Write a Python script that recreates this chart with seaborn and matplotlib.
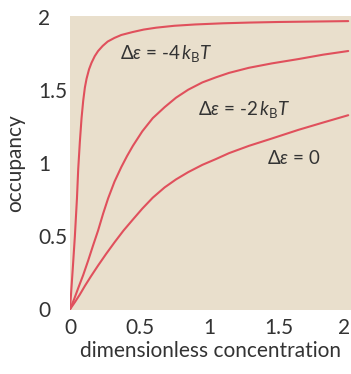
import numpy as np
import pandas as pd
import seaborn as sns
import matplotlib.pyplot as plt
from matplotlib.transforms import ScaledTranslation

# values
x_m4 = [0.0, 0.01, 0.02, 0.035, 0.05, 0.059, 0.071, 0.083, 0.095, 0.107, 0.119, 0.137, 0.155,
        0.178, 0.202, 0.235, 0.271, 0.32, 0.369, 0.45, 0.53, 0.62, 0.75, 0.9, 1.1, 1.29, 1.5, 1.75, 2.0]
y_m4 = [0.0, 0.14, 0.28, 0.5, 0.76, 0.96, 1.15, 1.31, 1.43, 1.52, 1.58, 1.645, 1.69,
        1.735, 1.77, 1.805, 1.835, 1.86, 1.88, 1.90, 1.917, 1.93, 1.943, 1.952, 1.96, 1.965, 1.969, 1.972, 1.975]

x_m2 = [0.0, 0.03, 0.059, 0.095, 0.131, 0.165, 0.202, 0.238, 0.274, 0.32, 0.369, 0.41, 0.452,
        0.52, 0.595, 0.68, 0.762, 0.85, 0.952, 1.05, 1.143, 1.286, 1.45, 1.643, 1.82, 2.0]
y_m2 = [0.0, 0.07, 0.145, 0.235, 0.335, 0.435, 0.54, 0.655, 0.76, 0.875, 0.975, 1.05, 1.12,
        1.22, 1.31, 1.385, 1.45, 1.505, 1.555, 1.59, 1.62, 1.655, 1.685, 1.715, 1.745, 1.77]

x_0 = [0.0, 0.036, 0.07, 0.107, 0.15, 0.202, 0.26, 0.321, 0.385, 0.452, 0.52, 0.595, 0.68,
       0.762, 0.85, 0.952, 1.05, 1.143, 1.286, 1.45, 1.643, 1.82, 2.0]
y_0 = [0.0, 0.05, 0.10, 0.16, 0.225, 0.30, 0.38, 0.46, 0.54, 0.615, 0.69, 0.765, 0.835,
       0.89, 0.94, 0.99, 1.03, 1.07, 1.12, 1.17, 1.23, 1.28, 1.33]

curves = {"-4": (x_m4, y_m4), "-2": (x_m2, y_m2), "0": (x_0, y_0)}

labels = [r"$\Delta\varepsilon$ = -4$\,k_{\mathrm{B}}T$",
          r"$\Delta\varepsilon$ = -2$\,k_{\mathrm{B}}T$",
          r"$\Delta\varepsilon$ = 0"]
label_pos = [(0.69, 1.75), (1.25, 1.37), (1.61, 1.04)]

ticks = [0, 0.5, 1, 1.5, 2]
tick_labels = ["0", "0.5", "1", "1.5", "2"]

sns.set_style("white")
plt.rcParams['font.family'] = ['Lato', 'DejaVu Sans']
plt.rcParams['mathtext.fontset'] = 'custom'
plt.rcParams['mathtext.rm'] = 'Lato'
plt.rcParams['mathtext.it'] = 'Lato:italic'
plt.rcParams['mathtext.fallback'] = 'stix'

fig = plt.figure(figsize=(3.51, 3.74), dpi=100)
ax = fig.add_axes([70 / 351, 1 - 310 / 374, 1 - 70 / 351, (310 - 16) / 374])
ax.set_facecolor("#e9dfcc")

red = "#e0505c"
for name, (xs, ys) in curves.items():
    df = pd.DataFrame({"x": xs, "y": ys})
    sns.lineplot(data=df, x="x", y="y", ax=ax, color=red, lw=1.5, sort=False)

for txt, (tx, ty) in zip(labels, label_pos):
    ax.text(tx, ty, txt, ha="center", va="center", fontsize=13.5, color="#333333")

ax.set_xlim(0, 2.02)
ax.set_ylim(-0.005, 2.01)
ax.set_xticks(ticks)
ax.set_xticklabels(tick_labels)
ax.set_yticks(ticks)
ax.set_yticklabels(tick_labels)
ax.tick_params(axis="both", length=0, labelsize=15, colors="#333333")
ax.tick_params(axis="x", pad=6)
ax.tick_params(axis="y", pad=23)
for lab in ax.get_yticklabels():
    lab.set_horizontalalignment("left")
last = ax.get_xticklabels()[-1]
last.set_transform(last.get_transform() + ScaledTranslation(-4 / 100, 0, fig.dpi_scale_trans))
for s in ax.spines.values():
    s.set_visible(False)

ax.set_xlabel("dimensionless concentration", fontsize=15, color="#333333", labelpad=2)
ax.set_ylabel("occupancy", fontsize=15, color="#333333", labelpad=9)

fig.savefig("out.png", dpi=100)
